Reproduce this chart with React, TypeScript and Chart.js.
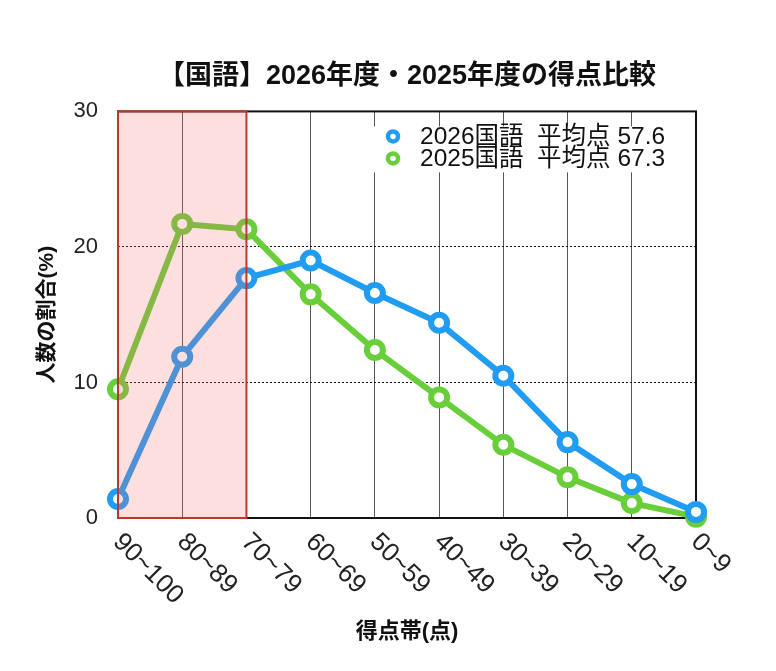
import { useEffect, useRef } from "react";
import { Chart, registerables } from "chart.js";

Chart.register(...registerables);

const categories = ["90~100", "80~89", "70~79", "60~69", "50~59", "40~49", "30~39", "20~29", "10~19", "0~9"];
const values2026 = [1.4, 11.9, 17.7, 19.0, 16.6, 14.4, 10.5, 5.6, 2.5, 0.45];
const values2025 = [9.5, 21.7, 21.3, 16.5, 12.4, 8.9, 5.4, 3.0, 1.1, 0.1];
const seriesLabels = ["2026国語  平均点 57.6", "2025国語  平均点 67.3"];
const highlightRange = [0, 2]; // 90~100 .. 70~79
const yTicks = [0, 10, 20, 30];

const FONT = "'Liberation Sans', 'Noto Sans CJK JP', sans-serif";
const BLUE = "rgb(32, 156, 242)";
const GREEN = "rgb(104, 206, 58)";

// frame around the plot, drawn under the lines
const framePlugin = {
  id: "frame",
  beforeDatasetsDraw(chart: Chart) {
    const { ctx, chartArea: a } = chart;
    ctx.save();
    ctx.strokeStyle = "#111";
    ctx.lineWidth = 2;
    ctx.strokeRect(a.left, a.top, a.right - a.left, a.bottom - a.top);
    ctx.restore();
  },
};

// pink highlight box over the top score bands
const highlightPlugin = {
  id: "highlight",
  afterDatasetsDraw(chart: Chart) {
    const { ctx, chartArea: a } = chart;
    const x = chart.scales.x;
    const x0 = x.getPixelForValue(highlightRange[0]);
    const x1 = x.getPixelForValue(highlightRange[1]);
    ctx.save();
    ctx.fillStyle = "rgba(248, 110, 110, 0.22)";
    ctx.fillRect(x0, a.top, x1 - x0, a.bottom - a.top);
    ctx.strokeStyle = "rgb(190, 55, 45)";
    ctx.lineWidth = 2;
    ctx.strokeRect(x0, a.top, x1 - x0, a.bottom - a.top);
    ctx.restore();
  },
};

// rotated x labels and the legend box inside the plot
const labelsPlugin = {
  id: "labels",
  afterDraw(chart: Chart) {
    const { ctx, chartArea: a } = chart;
    const x = chart.scales.x;
    ctx.save();
    ctx.fillStyle = "#222";
    ctx.font = `26px ${FONT}`;
    ctx.textAlign = "left";
    ctx.textBaseline = "middle";
    categories.forEach((c, i) => {
      const px = x.getPixelForValue(i);
      ctx.save();
      ctx.translate(px - 1, a.bottom + 20);
      ctx.rotate(Math.PI / 4);
      ctx.fillText(c, 0, 0);
      ctx.restore();
    });

    // legend
    const lx = a.left + 254;
    const ly = a.top + 15;
    ctx.fillStyle = "#fff";
    ctx.fillRect(lx, ly, 296, 46);
    ctx.font = `24.5px ${FONT}`;
    chart.data.datasets.forEach((ds, i) => {
      const cy = ly + 10 + i * 22;
      ctx.beginPath();
      ctx.arc(lx + 21, cy, 5, 0, Math.PI * 2);
      ctx.fillStyle = "#fff";
      ctx.fill();
      ctx.lineWidth = 4.5;
      ctx.strokeStyle = ds.borderColor as string;
      ctx.stroke();
      ctx.fillStyle = "#111";
      ctx.fillText(ds.label as string, lx + 48, cy + 1);
    });
    ctx.restore();
  },
};

const App = () => {
  const chartRef = useRef<HTMLCanvasElement>(null);
  const chartInstance = useRef<Chart | null>(null);

  useEffect(() => {
    if (!chartRef.current) return;
    if (chartInstance.current) chartInstance.current.destroy();

    const makeSet = (label: string, data: number[], color: string) => ({
      label,
      data,
      borderColor: color,
      backgroundColor: color,
      borderWidth: 6,
      pointRadius: 8,
      pointBorderWidth: 6,
      pointBackgroundColor: "#fff",
      pointBorderColor: color,
      tension: 0,
      clip: false as const,
    });

    chartInstance.current = new Chart(chartRef.current, {
      type: "line",
      data: {
        labels: categories,
        datasets: [
          makeSet(seriesLabels[0], values2026, BLUE),
          makeSet(seriesLabels[1], values2025, GREEN),
        ],
      },
      options: {
        animation: false,
        responsive: true,
        maintainAspectRatio: false,
        layout: { padding: { left: 27, right: 72, top: 0, bottom: 18 } },
        plugins: {
          legend: { display: false },
          tooltip: { enabled: false },
          title: {
            display: true,
            fullSize: false,
            text: "【国語】2026年度・2025年度の得点比較",
            color: "#111",
            font: { family: FONT, size: 27, weight: "bold" },
            padding: { top: 52, bottom: 19 },
          },
        },
        scales: {
          x: {
            type: "category",
            offset: false,
            grid: { color: "#555", lineWidth: 1, drawTicks: false },
            border: { display: false },
            ticks: { display: false },
            title: {
              display: true,
              text: "得点帯(点)",
              color: "#111",
              font: { family: FONT, size: 22, weight: "bold" },
              padding: 0,
            },
            afterFit: (s: any) => {
              s.height = 127;
            },
          },
          y: {
            min: 0,
            max: 30,
            afterBuildTicks: (s: any) => {
              s.ticks = yTicks.map((v) => ({ value: v }));
            },
            grid: { color: "#111", lineWidth: 1, drawTicks: false },
            border: { display: false, dash: [2, 2] },
            ticks: {
              color: "#222",
              padding: 20,
              font: { family: FONT, size: 22 },
            },
            title: {
              display: true,
              text: "人数の割合(%)",
              color: "#111",
              font: { family: FONT, size: 21, weight: "bold" },
              padding: 0,
            },
            afterFit: (s: any) => {
              s.width = 83;
            },
          },
        },
      },
      plugins: [framePlugin, highlightPlugin, labelsPlugin],
    });

    return () => {
      if (chartInstance.current) {
        chartInstance.current.destroy();
        chartInstance.current = null;
      }
    };
  }, []);

  return (
    <div style={{ width: 760, height: 655, background: "#fff" }}>
      <canvas ref={chartRef} />
    </div>
  );
};

export default App;
